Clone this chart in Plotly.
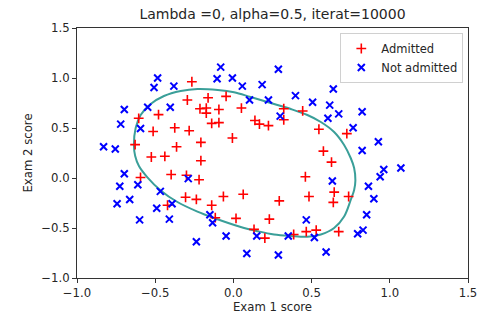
import plotly.graph_objects as go

# Microchip test scores: (Exam 1, Exam 2) for accepted and rejected samples
admitted_x1 = [0.051267, -0.092742, -0.21371, -0.375, -0.51325, -0.52477, -0.39804, -0.30588,
               0.016705, 0.13191, 0.38537, 0.52938, 0.63882, 0.73675, 0.54666, 0.322, 0.16647,
               -0.046659, -0.17339, -0.47869, -0.60541, -0.62846, -0.59389, -0.42108, -0.11578,
               0.20104, 0.46601, 0.67339, -0.13882, -0.29435, -0.26555, -0.16187, -0.17339,
               -0.28283, -0.36348, -0.30012, -0.23675, -0.06394, 0.062788, 0.22984, 0.2932,
               0.48329, 0.64459, 0.46025, 0.6273, 0.57546, 0.72523, 0.22408, 0.44297, 0.322,
               0.13767, -0.0063364, -0.092742, -0.20795, -0.20795, -0.43836, -0.21947, -0.13882]
admitted_x2 = [0.69956, 0.68494, 0.69225, 0.50219, 0.46564, 0.2098, 0.034357, -0.19225,
               -0.40424, -0.51389, -0.56506, -0.5212, -0.24342, -0.18494, 0.48757, 0.5826, 0.53874,
               0.81652, 0.69956, 0.63377, 0.59722, 0.33406, 0.005117, -0.27266, -0.39693,
               -0.60161, -0.53582, -0.53582, 0.54605, 0.77997, 0.96272, 0.8019, 0.64839,
               0.47295, 0.31213, 0.027047, -0.21418, -0.18494, -0.16301, -0.41155, -0.2288,
               -0.18494, -0.14108, 0.012427, 0.15863, 0.26827, 0.44371, 0.52412, 0.67032, 0.69225,
               0.57529, 0.39985, 0.55336, 0.35599, 0.17325, 0.21711, -0.016813, -0.27266]

rejected_x1 = [0.18376, 0.22408, 0.29896, 0.50634, 0.61578, 0.60426, 0.76555, 0.92684, 0.82316,
               0.96141, 0.93836, 0.86348, 0.89804, 0.85196, 0.82892, 0.79435, 0.59274, 0.51786,
               0.46601, 0.35081, 0.28744, 0.085829, 0.14919, -0.13306, -0.40956, -0.39228,
               -0.74366, -0.69758, -0.75518, -0.69758, -0.4038, -0.38076, -0.50749, -0.54781,
               0.10311, 0.057028, -0.10426, -0.081221, 0.28744, 0.39689, 0.63882, 0.82316,
               0.67339, 1.0709, -0.046659, -0.23675, -0.15035, -0.49021, -0.46717, -0.28859,
               -0.61118, -0.66302, -0.59965, -0.72638, -0.83007, -0.72062, -0.59389, -0.48445,
               -0.0063364, 0.63265]
rejected_x2 = [0.93348, 0.77997, 0.61915, 0.75804, 0.7288, 0.59722, 0.50219, 0.3633, 0.27558,
               0.085526, 0.012427, -0.082602, -0.20687, -0.36769, -0.5212, -0.55775, -0.7405,
               -0.5943, -0.41886, -0.57968, -0.76974, -0.75512, -0.57968, -0.4481, -0.41155,
               -0.25804, -0.25804, 0.041667, 0.2902, 0.68494, 0.70687, 0.91886, 0.90424, 0.70687,
               0.77997, 0.91886, 0.99196, 1.1089, 1.087, 0.82383, 0.88962, 0.66301, 0.64108,
               0.10015, -0.57968, -0.63816, -0.36769, -0.3019, -0.13377, -0.0060673, -0.067982,
               -0.21418, -0.41886, -0.082602, 0.31213, 0.53874, 0.49488, 0.99927, 0.99927,
               -0.030612]

# Decision boundary (probability = 0.5), traced clockwise
boundary_x1 = [-0.636, -0.625, -0.593, -0.529, -0.444, -0.337, -0.23, -0.10, 0.004, 0.11,
               0.26, 0.367, 0.473, 0.559, 0.644, 0.708, 0.75, 0.772, 0.78, 0.772, 0.75, 0.708,
               0.644, 0.559, 0.473, 0.367, 0.26, 0.154, 0.047, -0.124, -0.23, -0.358, -0.465,
               -0.55, -0.604, -0.628, -0.636]
boundary_x2 = [0.33, 0.50, 0.63, 0.74, 0.82, 0.87, 0.89, 0.88, 0.857, 0.81,
               0.74, 0.69, 0.63, 0.56, 0.46, 0.33, 0.20, 0.10, -0.025, -0.12, -0.22, -0.385,
               -0.50, -0.565, -0.588, -0.58, -0.565, -0.532, -0.49, -0.40, -0.336, -0.24, -0.124,
               0.007, 0.12, 0.22, 0.33]

FONT = "DejaVu Sans"
TXT = "#262626"

fig = go.Figure()
fig.add_trace(go.Scatter(
    x=boundary_x1, y=boundary_x2, mode="lines",
    line=dict(color="#3a9f99", width=2, shape="spline", smoothing=1.0),
    showlegend=False, hoverinfo="skip"))
fig.add_trace(go.Scatter(
    x=admitted_x1, y=admitted_x2, mode="markers", name="Admitted",
    marker=dict(symbol="cross-thin", size=7, line=dict(color="red", width=1.6), color="red")))
fig.add_trace(go.Scatter(
    x=rejected_x1, y=rejected_x2, mode="markers", name="Not admitted",
    marker=dict(symbol="x-thin", size=7, line=dict(color="blue", width=2), color="blue")))

axis_common = dict(
    range=[-1.0, 1.5], dtick=0.5, tick0=-1.0, tickformat=".1f",
    showgrid=False, zeroline=False, showline=True, mirror=True,
    linecolor="#333333", linewidth=1, ticks="outside", ticklen=4,
    tickcolor="#333333", tickfont=dict(family=FONT, size=11.7, color=TXT),
)

fig.update_layout(
    width=497, height=323,
    margin=dict(l=77, r=29, t=28, b=40),
    paper_bgcolor="white", plot_bgcolor="white",
    font=dict(family=FONT, size=11.7, color=TXT),
    title=dict(text="Lambda =0, alpha=0.5, iterat=10000", x=0.5, xref="paper",
               xanchor="center", y=0.955, yanchor="middle",
               font=dict(family=FONT, size=14, color=TXT)),
    xaxis=dict(axis_common, title=dict(text="Exam 1 score", standoff=3,
                                       font=dict(family=FONT, size=11.7))),
    yaxis=dict(axis_common, title=dict(text="Exam 2 score", standoff=6,
                                       font=dict(family=FONT, size=11.7))),
    legend=dict(x=0.988, y=0.98, xanchor="right", yanchor="top",
                bgcolor="rgba(255,255,255,0.8)", bordercolor="#d0d0d0", borderwidth=1,
                font=dict(family=FONT, size=11.5, color=TXT), tracegroupgap=0),
    showlegend=True,
)

fig.write_html("out.html")
